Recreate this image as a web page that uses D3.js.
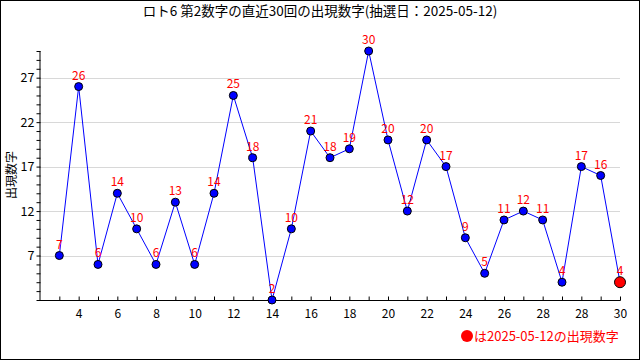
<!DOCTYPE html>
<html><head><meta charset="utf-8">
<script src="https://cdn.jsdelivr.net/npm/d3@7"></script>
<style>body{margin:0;background:#fff}svg{display:block}</style>
</head><body>
<svg id="c" width="640" height="360"></svg>
<script>
const values = [7,26,6,14,10,6,13,6,14,25,18,2,10,21,18,19,30,20,12,20,17,9,5,11,12,11,4,17,16,4];
const xTickLabels = ["4","6","8","10","12","14","16","18","20","22","24","26","28","28","30"];
const yTickValues = [7,12,17,22,27];
const title = "ロト6 第2数字の直近30回の出現数字(抽選日：2025-05-12)";
const yTitle = "出現数字";
const legendText = "は2025-05-12の出現数字";

const font = "'Noto Sans CJK JP', sans-serif";
const svg = d3.select("#c");
const W = 640, H = 360;
svg.append("rect").attr("x",0.5).attr("y",0.5).attr("width",W-1).attr("height",H-1)
  .attr("fill","#fff").attr("stroke","#000");

const x = d3.scaleLinear().domain([-1, values.length-1]).range([40, 620]);
const y = d3.scaleLinear().domain([2, 30]).range([300, 51]);

// grid
svg.append("g").selectAll("line").data(yTickValues).join("line")
  .attr("x1",40).attr("x2",620).attr("y1",d=>Math.round(y(d))+0.5).attr("y2",d=>Math.round(y(d))+0.5)
  .attr("stroke","#d8d8d8").attr("stroke-width",1);

// y axis
const yAxis = d3.axisLeft(y).tickValues(d3.range(2,31)).tickSize(4)
  .tickFormat(d => yTickValues.includes(d) ? d : "");
const gy = svg.append("g").attr("transform","translate(40.5,0)").call(yAxis);
gy.select(".domain").attr("d","M-0.5,300.5V51").attr("stroke","#000");
gy.selectAll("text").attr("font-family",font).attr("font-size",12.5).attr("fill","#000").attr("dx",1);

// x axis
const xAxis = d3.axisBottom(x).tickValues(d3.range(0, values.length)).tickSize(-4)
  .tickFormat(d => d % 2 === 1 ? xTickLabels[(d-1)/2] : "");
const gx = svg.append("g").attr("transform","translate(0,300.5)").call(xAxis);
gx.select(".domain").attr("d","M40,0H620.5").attr("stroke","#000");
gx.selectAll("text").attr("font-family",font).attr("font-size",12).attr("fill","#000").attr("dy",14);

// line
svg.append("path").datum(values)
  .attr("d", d3.line().x((d,i)=>x(i)).y(d=>y(d)))
  .attr("fill","none").attr("stroke","#0000ff").attr("stroke-width",1);

// points
svg.append("g").selectAll("circle").data(values).join("circle")
  .attr("cx",(d,i)=>x(i)).attr("cy",d=>y(d))
  .attr("r",(d,i)=> i===values.length-1 ? 5.5 : 4)
  .attr("fill",(d,i)=> i===values.length-1 ? "#ff0000" : "#0000ff")
  .attr("stroke","#000").attr("stroke-width",1);

// value labels
svg.append("g").selectAll("text").data(values).join("text")
  .attr("x",(d,i)=>x(i)).attr("y",d=>y(d)-7)
  .attr("text-anchor","middle").attr("font-family",font).attr("font-size",12)
  .attr("fill","#ff0000").text(d=>d);

// title
svg.append("text").attr("x",320).attr("y",16).attr("text-anchor","middle")
  .attr("font-family",font).attr("font-size",13.5).attr("fill","#000").text(title);

// y title
svg.append("text").attr("transform","translate(16,175) rotate(-90)").attr("text-anchor","middle")
  .attr("font-family",font).attr("font-size",12).attr("fill","#000").text(yTitle);

// legend
svg.append("circle").attr("cx",467).attr("cy",336).attr("r",6).attr("fill","#ff0000");
svg.append("text").attr("x",474).attr("y",341).attr("font-family",font).attr("font-size",13)
  .attr("fill","#ff0000").text(legendText);
</script>
</body></html>
